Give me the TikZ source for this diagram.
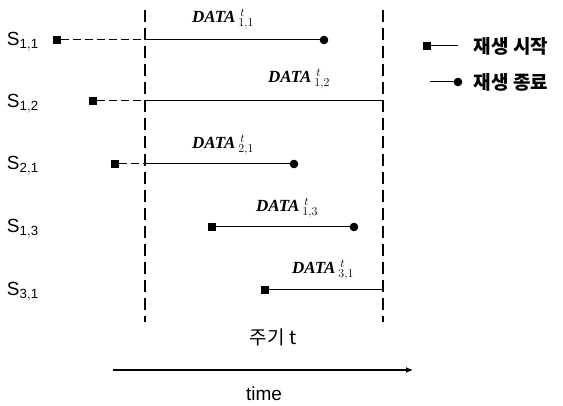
\documentclass[tikz,border=0pt]{standalone}
\usepackage{fontspec}
\setmainfont{Liberation Serif}
\setsansfont{Liberation Sans}
\newfontfamily\kofont{Noto Sans CJK KR}
\usetikzlibrary{arrows.meta}

\tikzset{
  startbox/.style={draw, fill=black, rectangle, inner sep=0pt, minimum size=7pt},
  endball/.style={draw, fill=black, circle, inner sep=0pt, minimum size=7.5pt},
  seglabel/.style={font=\sffamily\fontsize{19}{19}\selectfont, anchor=west},
  datalabel/.style={font=\bfseries\itshape\fontsize{17}{17}\selectfont},
  kolabel/.style={font=\kofont\bfseries\fontsize{19}{19}\selectfont, anchor=west},
  border/.style={dash pattern=on 12pt off 6pt},
  carry/.style={dash pattern=on 8pt off 4pt}
}

\newcommand{\datat}[1]{DATA\,$^{\,t}_{#1}$}

\begin{document}
\begin{tikzpicture}[x=1pt, y=-1pt, line width=1pt]
        \useasboundingbox (0,0) rectangle (563,406);

        % Period borders
        \coordinate (p1top) at (145, 10);
        \coordinate (p1bot) at (145, 322);
        \coordinate (p2top) at (383, 10);
        \coordinate (p2bot) at (383, 322);
        \draw[border, line width=1.3pt] (p1top) -- (p1bot);
        \draw[border, line width=1.3pt] (p2top) -- (p2bot);

        % S_{1,1}
        \node[seglabel] (s11) at (3, 42) {S$_{\mathsf{1,1}}$};
        \node[startbox] (b11) at (57, 40) {};
        \coordinate (c11) at (145, 40);
        \node[endball] (e11) at (324, 40) {};
        \draw[carry] (b11) -- (c11);
        \draw (c11) -- (e11);
        \node[datalabel] (d11) at (223, 19) {\datat{1,1}};

        % S_{1,2}
        \node[seglabel] (s12) at (3, 104) {S$_{\mathsf{1,2}}$};
        \node[startbox] (b12) at (93, 101) {};
        \coordinate (c12) at (145, 101);
        \coordinate (e12) at (383, 101);
        \draw[carry] (b12) -- (c12);
        \draw (c12) -- (e12);
        \node[datalabel] (d12) at (299, 79) {\datat{1,2}};

        % S_{2,1}
        \node[seglabel] (s21) at (3, 166) {S$_{\mathsf{2,1}}$};
        \node[startbox] (b21) at (115, 164) {};
        \coordinate (c21) at (145, 164);
        \node[endball] (e21) at (294, 164) {};
        \draw[carry] (b21) -- (c21);
        \draw (c21) -- (e21);
        \node[datalabel] (d21) at (223, 145) {\datat{2,1}};

        % S_{1,3}
        \node[seglabel] (s13) at (3, 229) {S$_{\mathsf{1,3}}$};
        \node[startbox] (b13) at (212, 227) {};
        \node[endball] (e13) at (354, 227) {};
        \draw (b13) -- (e13);
        \node[datalabel] (d13) at (287, 208) {\datat{1,3}};

        % S_{3,1}
        \node[seglabel] (s31) at (3, 292) {S$_{\mathsf{3,1}}$};
        \node[startbox] (b31) at (265, 290) {};
        \coordinate (e31) at (383, 290);
        \draw (b31) -- (e31);
        \node[datalabel] (d31) at (323, 270) {\datat{3,1}};

        % Legend
        \node[startbox] (lb1) at (427, 46) {};
        \coordinate (ll1) at (458, 46);
        \draw (lb1) -- (ll1);
        \node[kolabel] (lt1) at (470, 46) {재생 시작};
        \coordinate (ll2) at (430, 82);
        \node[endball] (lb2) at (458, 82) {};
        \draw (ll2) -- (lb2);
        \node[kolabel] (lt2) at (470, 82) {재생 종료};

        % Period and time axis
        \node[font=\kofont\fontsize{19}{19}\selectfont] (period) at (273, 337) {주기 t};
        \coordinate (t0) at (113, 370);
        \coordinate (t1) at (413, 370);
        \draw[line width=1.2pt, -{Latex[length=7pt, width=6pt]}] (t0) -- (t1);
        \node[font=\sffamily\fontsize{19}{19}\selectfont, inner sep=1pt] (time) at (264, 394) {time};
    \end{tikzpicture}
\end{document}
